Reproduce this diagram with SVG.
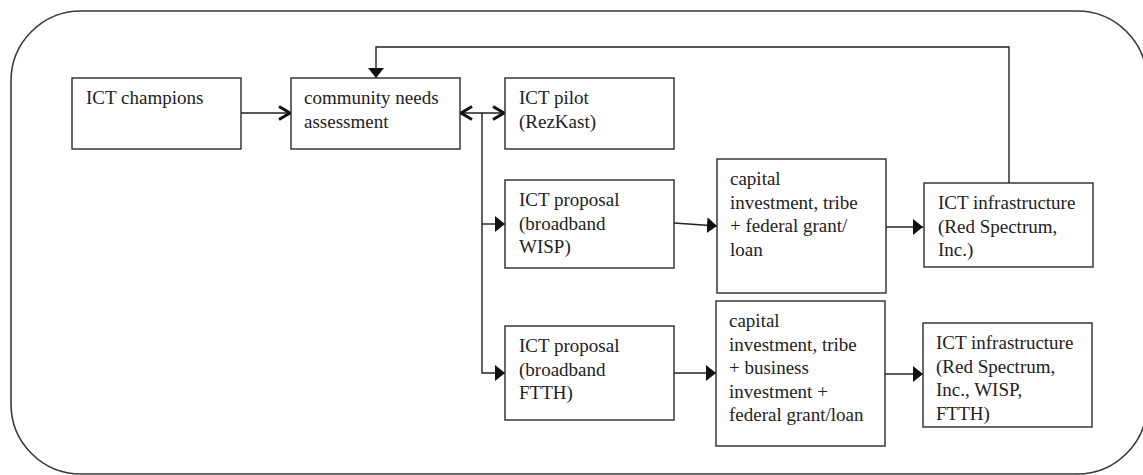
<svg xmlns="http://www.w3.org/2000/svg" width="1143" height="475" viewBox="0 0 1143 475">
  <style>
    .frame { fill: none; stroke: #3a3a3a; stroke-width: 1.6; }
    .box { fill: #ffffff; stroke: #2a2a2a; stroke-width: 1.4; }
    .lbl { font-family: "Liberation Serif", "Times New Roman", serif; font-size: 19px; fill: #222222; }
    .wire { fill: none; stroke: #222222; stroke-width: 1.4; }
  </style>
  <defs>
    <marker id="tri" markerUnits="userSpaceOnUse" markerWidth="12" markerHeight="18" refX="10" refY="8" orient="auto">
      <path d="M0,0 L10,8 L0,16 Z" fill="#111111"/>
    </marker>
    <marker id="chev" markerUnits="userSpaceOnUse" markerWidth="16" markerHeight="18" refX="12" refY="8" orient="auto-start-reverse">
      <path d="M1,1.5 L12,8 L1,14.5" fill="none" stroke="#111111" stroke-width="3" stroke-linejoin="miter"/>
    </marker>
  </defs>

  <!-- rounded outer frame -->
  <rect class="frame" x="11" y="11" width="1136" height="463" rx="70" ry="70"/>

  <g id="connectors">
    <path class="wire" d="M241,113 H290" marker-end="url(#chev)"/>
    <path class="wire" d="M461,113 H504" marker-start="url(#chev)" marker-end="url(#chev)"/>
    <path class="wire" d="M482,113 V373 H505" marker-end="url(#tri)"/>
    <path class="wire" d="M482,224 H505" marker-end="url(#tri)"/>
    <path class="wire" d="M674,223 L717,226" marker-end="url(#tri)"/>
    <path class="wire" d="M674,373 H716" marker-end="url(#tri)"/>
    <path class="wire" d="M886,227 H923" marker-end="url(#tri)"/>
    <path class="wire" d="M885,374 H923" marker-end="url(#tri)"/>
    <path class="wire" d="M1009,183 V47 H376 V78" marker-end="url(#tri)"/>
  </g>

  <g id="ict-champions">
    <rect class="box" x="72" y="78" width="169" height="71"/>
    <text class="lbl" x="86" y="104">ICT champions</text>
  </g>

  <g id="community-needs">
    <rect class="box" x="291" y="78" width="169" height="71"/>
    <text class="lbl" x="304" y="104">community needs</text>
    <text class="lbl" x="304" y="127.5">assessment</text>
  </g>

  <g id="ict-pilot">
    <rect class="box" x="505" y="78" width="169" height="71"/>
    <text class="lbl" x="519" y="104">ICT pilot</text>
    <text class="lbl" x="519" y="127.5">(RezKast)</text>
  </g>

  <g id="proposal-wisp">
    <rect class="box" x="505" y="180" width="169" height="88"/>
    <text class="lbl" x="519" y="206">ICT proposal</text>
    <text class="lbl" x="519" y="229.5">(broadband</text>
    <text class="lbl" x="519" y="253">WISP)</text>
  </g>

  <g id="capital-wisp">
    <rect class="box" x="717" y="159" width="169" height="134"/>
    <text class="lbl" x="730" y="185">capital</text>
    <text class="lbl" x="730" y="208.5">investment, tribe</text>
    <text class="lbl" x="730" y="232">+ federal grant/</text>
    <text class="lbl" x="730" y="255.5">loan</text>
  </g>

  <g id="infrastructure-wisp">
    <rect class="box" x="924" y="183" width="169" height="84"/>
    <text class="lbl" x="938" y="209">ICT infrastructure</text>
    <text class="lbl" x="938" y="232.5">(Red Spectrum,</text>
    <text class="lbl" x="938" y="256">Inc.)</text>
  </g>

  <g id="proposal-ftth">
    <rect class="box" x="505" y="326" width="169" height="94"/>
    <text class="lbl" x="519" y="352">ICT proposal</text>
    <text class="lbl" x="519" y="375.5">(broadband</text>
    <text class="lbl" x="519" y="399">FTTH)</text>
  </g>

  <g id="capital-ftth">
    <rect class="box" x="716" y="301" width="169" height="145"/>
    <text class="lbl" x="729" y="327">capital</text>
    <text class="lbl" x="729" y="350.5">investment, tribe</text>
    <text class="lbl" x="729" y="374">+ business</text>
    <text class="lbl" x="729" y="397.5">investment +</text>
    <text class="lbl" x="729" y="421">federal grant/loan</text>
  </g>

  <g id="infrastructure-ftth">
    <rect class="box" x="923" y="323" width="169" height="104"/>
    <text class="lbl" x="936" y="349">ICT infrastructure</text>
    <text class="lbl" x="936" y="372.5">(Red Spectrum,</text>
    <text class="lbl" x="936" y="396">Inc., WISP,</text>
    <text class="lbl" x="936" y="419.5">FTTH)</text>
  </g>
</svg>
